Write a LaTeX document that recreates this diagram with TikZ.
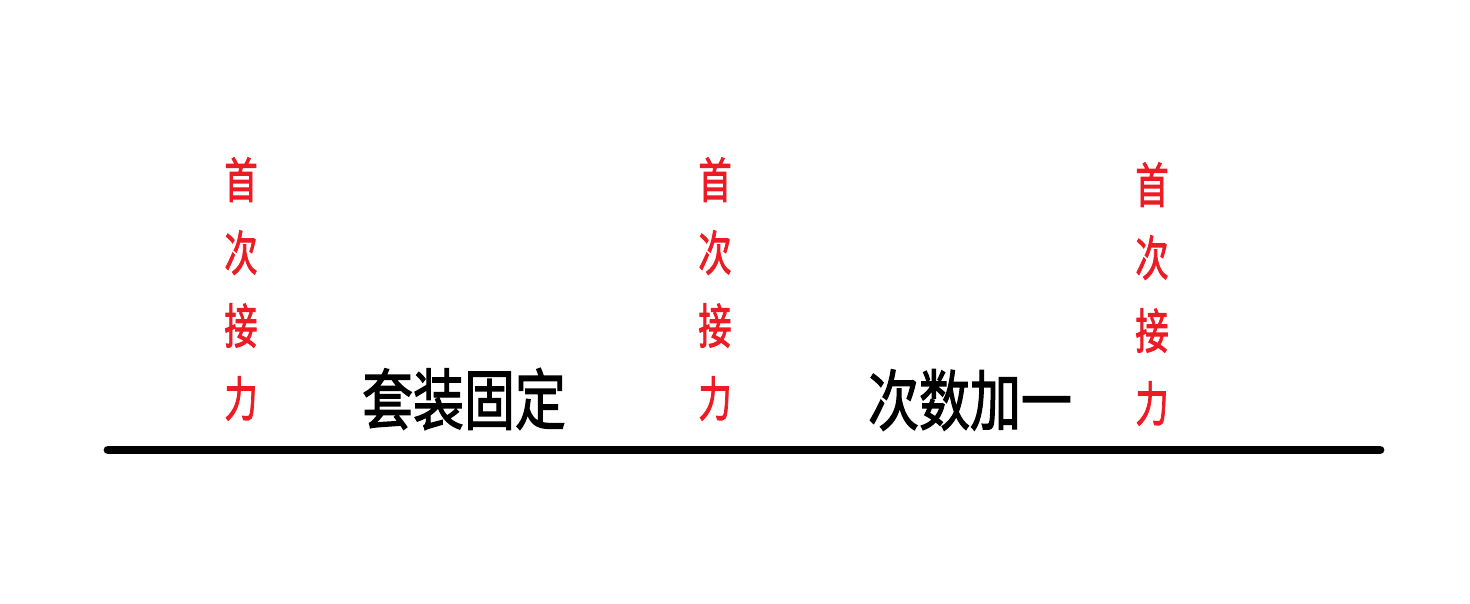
\documentclass[tikz,border=0pt]{standalone}
\usepackage{fontspec}
\newfontfamily\cjk[FakeBold=2.2]{Noto Sans CJK SC}
\newfontfamily\cjkbold[FakeBold=2]{Noto Sans CJK SC}
\usepackage{xcolor}
\usetikzlibrary{positioning}
\definecolor{relayred}{RGB}{237,28,36}

\begin{document}
\begin{tikzpicture}[x=0.02cm,y=-0.02cm,
	relay/.style={text=relayred,align=center,inner sep=0pt,xscale=0.9,yscale=1.3,font=\cjk\fontsize{21}{31.9}\selectfont},
	stage/.style={text=black,inner sep=0pt,yscale=1.3,font=\cjkbold\fontsize{29}{34}\selectfont}]
	\useasboundingbox (0,0) rectangle (1470,604);
	\coordinate (start) at (108,450);
	\coordinate (stop) at (1380,450);
	\draw[line width=5pt,line cap=round] (start)--(stop);
	\node[relay] (first1) at (241,289) {首\\次\\接\\力};
	\node[relay] (first2) at (715,289) {首\\次\\接\\力};
	\node[relay] (first3) at (1152,294) {首\\次\\接\\力};
	\node[stage] (fixed) at (464,399) {套装固定};
	\node[stage] (plusone) at (970,400) {次数加一};
\end{tikzpicture}
\end{document}
